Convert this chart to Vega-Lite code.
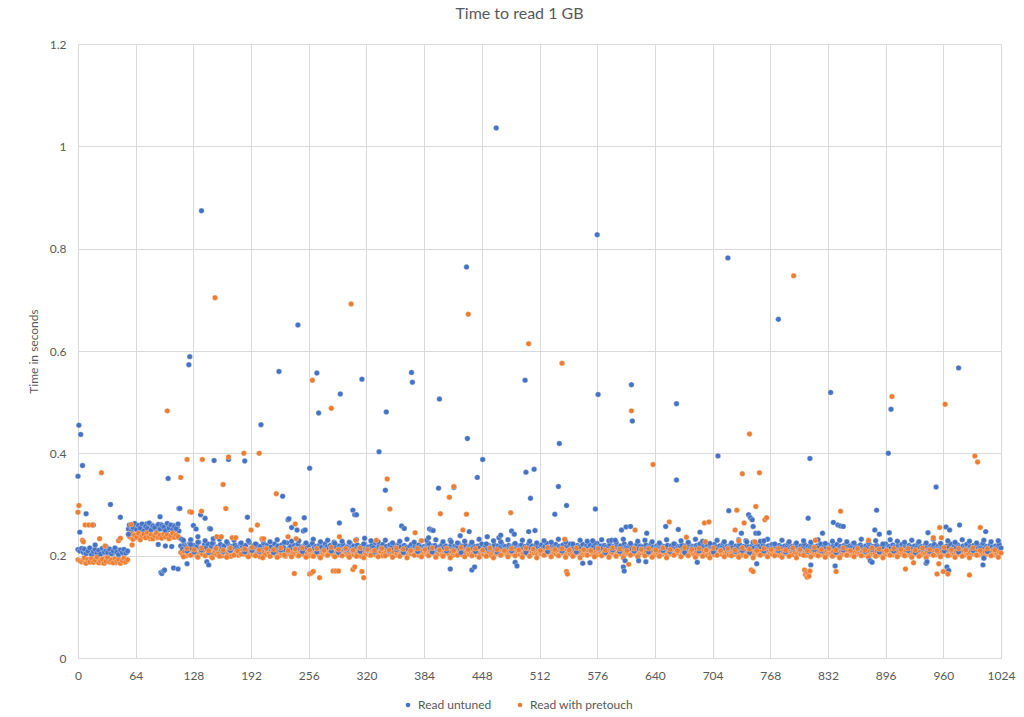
{
  "$schema": "https://vega.github.io/schema/vega-lite/v6.json",
  "description": "Time to read 1 GB, untuned vs pretouch",
  "width": 923,
  "height": 614,
  "autosize": "none",
  "padding": {"left": 78, "top": 44, "right": 23, "bottom": 59},
  "background": "white",
  "title": {"text": "Time to read 1 GB", "fontSize": 16, "font": "Lato", "fontWeight": "normal", "color": "#595959", "offset": 16, "dx": -20},
  "data": {"values": [
    {"x":0,"u":0.212,"p":0.192},{"x":2,"u":0.209,"p":0.190},{"x":4,"u":0.214,"p":0.188},{"x":6,"u":0.206,"p":0.191},
    {"x":8,"u":0.210,"p":0.186},{"x":10,"u":0.205,"p":0.193},{"x":12,"u":0.208,"p":0.189},{"x":14,"u":0.204,"p":0.187},
    {"x":16,"u":0.211,"p":0.192},{"x":18,"u":0.207,"p":0.190},{"x":20,"u":0.203,"p":0.188},{"x":22,"u":0.209,"p":0.194},
    {"x":24,"u":0.206,"p":0.189},{"x":26,"u":0.212,"p":0.186},{"x":28,"u":0.205,"p":0.191},{"x":30,"u":0.208,"p":0.195},
    {"x":32,"u":0.204,"p":0.188},{"x":34,"u":0.210,"p":0.190},{"x":36,"u":0.207,"p":0.187},{"x":38,"u":0.203,"p":0.192},
    {"x":40,"u":0.209,"p":0.189},{"x":42,"u":0.206,"p":0.186},{"x":44,"u":0.211,"p":0.191},{"x":46,"u":0.205,"p":0.193},
    {"x":48,"u":0.208,"p":0.188},{"x":50,"u":0.204,"p":0.190},{"x":52,"u":0.210,"p":0.187},{"x":54,"u":0.206,"p":0.191},
    {"x":56,"u":0.252,"p":0.241},{"x":58,"u":0.258,"p":0.236},{"x":60,"u":0.249,"p":0.239},{"x":62,"u":0.256,"p":0.234},
    {"x":64,"u":0.261,"p":0.240},{"x":66,"u":0.253,"p":0.237},{"x":68,"u":0.257,"p":0.243},{"x":70,"u":0.250,"p":0.235},
    {"x":72,"u":0.259,"p":0.238},{"x":74,"u":0.254,"p":0.241},{"x":76,"u":0.262,"p":0.236},{"x":78,"u":0.251,"p":0.239},
    {"x":80,"u":0.256,"p":0.233},{"x":82,"u":0.260,"p":0.240},{"x":84,"u":0.253,"p":0.237},{"x":86,"u":0.257,"p":0.242},
    {"x":88,"u":0.249,"p":0.235},{"x":90,"u":0.255,"p":0.238},{"x":92,"u":0.261,"p":0.240},{"x":94,"u":0.252,"p":0.236},
    {"x":96,"u":0.258,"p":0.243},{"x":98,"u":0.254,"p":0.237},{"x":100,"u":0.250,"p":0.239},{"x":102,"u":0.257,"p":0.234},
    {"x":104,"u":0.253,"p":0.241},{"x":106,"u":0.259,"p":0.236},{"x":108,"u":0.251,"p":0.240},{"x":110,"u":0.256,"p":0.238},
    {"x":112,"u":0.248,"p":0.235},
    {"x":114,"u":0.219,"p":0.206},{"x":116,"u":0.213,"p":0.203},{"x":118,"u":0.222,"p":0.208},{"x":120,"u":0.217,"p":0.200},
    {"x":122,"u":0.211,"p":0.205},{"x":124,"u":0.224,"p":0.209},{"x":126,"u":0.215,"p":0.202},{"x":128,"u":0.220,"p":0.206},
    {"x":130,"u":0.212,"p":0.211},{"x":132,"u":0.218,"p":0.199},{"x":134,"u":0.226,"p":0.204},{"x":136,"u":0.214,"p":0.207},
    {"x":138,"u":0.209,"p":0.203},{"x":140,"u":0.221,"p":0.210},{"x":142,"u":0.216,"p":0.201},{"x":144,"u":0.223,"p":0.205},
    {"x":146,"u":0.210,"p":0.208},{"x":148,"u":0.218,"p":0.198},{"x":150,"u":0.225,"p":0.204},{"x":152,"u":0.213,"p":0.209},
    {"x":154,"u":0.217,"p":0.202},{"x":156,"u":0.211,"p":0.206},{"x":158,"u":0.222,"p":0.212},{"x":160,"u":0.215,"p":0.200},
    {"x":162,"u":0.219,"p":0.205},{"x":164,"u":0.208,"p":0.207},{"x":166,"u":0.224,"p":0.203},{"x":168,"u":0.214,"p":0.210},
    {"x":170,"u":0.218,"p":0.199},{"x":172,"u":0.212,"p":0.206},{"x":174,"u":0.221,"p":0.204},{"x":176,"u":0.216,"p":0.208},
    {"x":178,"u":0.210,"p":0.201},{"x":180,"u":0.223,"p":0.205},{"x":182,"u":0.217,"p":0.211},{"x":184,"u":0.213,"p":0.203},
    {"x":186,"u":0.220,"p":0.207},{"x":188,"u":0.209,"p":0.200},{"x":190,"u":0.226,"p":0.205},{"x":192,"u":0.215,"p":0.209},
    {"x":194,"u":0.219,"p":0.202},{"x":196,"u":0.212,"p":0.206},{"x":198,"u":0.222,"p":0.204},{"x":200,"u":0.214,"p":0.210},
    {"x":202,"u":0.218,"p":0.198},{"x":204,"u":0.211,"p":0.205},{"x":206,"u":0.224,"p":0.207},{"x":208,"u":0.216,"p":0.202},
    {"x":210,"u":0.220,"p":0.209},{"x":212,"u":0.213,"p":0.204},{"x":214,"u":0.217,"p":0.200},{"x":216,"u":0.209,"p":0.206},
    {"x":218,"u":0.223,"p":0.211},{"x":220,"u":0.215,"p":0.203},{"x":222,"u":0.219,"p":0.207},{"x":224,"u":0.212,"p":0.201},
    {"x":226,"u":0.221,"p":0.205},{"x":228,"u":0.216,"p":0.208},{"x":230,"u":0.210,"p":0.199},{"x":232,"u":0.225,"p":0.204},
    {"x":234,"u":0.214,"p":0.210},{"x":236,"u":0.218,"p":0.202},{"x":238,"u":0.212,"p":0.206},{"x":240,"u":0.220,"p":0.204},
    {"x":242,"u":0.215,"p":0.209},{"x":244,"u":0.223,"p":0.200},{"x":246,"u":0.211,"p":0.205},{"x":248,"u":0.217,"p":0.207},
    {"x":250,"u":0.213,"p":0.203},{"x":252,"u":0.222,"p":0.211},{"x":254,"u":0.216,"p":0.204},{"x":256,"u":0.219,"p":0.200},
    {"x":258,"u":0.210,"p":0.206},{"x":260,"u":0.224,"p":0.208},{"x":262,"u":0.215,"p":0.202},{"x":264,"u":0.218,"p":0.205},
    {"x":266,"u":0.212,"p":0.210},{"x":268,"u":0.221,"p":0.199},{"x":270,"u":0.216,"p":0.206},{"x":272,"u":0.209,"p":0.203},
    {"x":274,"u":0.223,"p":0.207},{"x":276,"u":0.217,"p":0.201},{"x":278,"u":0.213,"p":0.205},{"x":280,"u":0.220,"p":0.209},
    {"x":282,"u":0.214,"p":0.204},{"x":284,"u":0.226,"p":0.200},{"x":286,"u":0.218,"p":0.206},{"x":288,"u":0.211,"p":0.208},
    {"x":290,"u":0.219,"p":0.202},{"x":292,"u":0.215,"p":0.205},{"x":294,"u":0.222,"p":0.211},{"x":296,"u":0.212,"p":0.203},
    {"x":298,"u":0.217,"p":0.207},{"x":300,"u":0.210,"p":0.200},{"x":302,"u":0.224,"p":0.204},{"x":304,"u":0.216,"p":0.209},
    {"x":306,"u":0.219,"p":0.202},{"x":308,"u":0.213,"p":0.206},{"x":310,"u":0.221,"p":0.204},{"x":312,"u":0.215,"p":0.210},
    {"x":314,"u":0.218,"p":0.199},{"x":316,"u":0.211,"p":0.205},{"x":318,"u":0.223,"p":0.207},{"x":320,"u":0.214,"p":0.203},
    {"x":322,"u":0.217,"p":0.208},{"x":324,"u":0.212,"p":0.201},{"x":326,"u":0.220,"p":0.205},{"x":328,"u":0.216,"p":0.209},
    {"x":330,"u":0.225,"p":0.202},{"x":332,"u":0.213,"p":0.206},{"x":334,"u":0.219,"p":0.204},{"x":336,"u":0.215,"p":0.208},
    {"x":338,"u":0.222,"p":0.200},{"x":340,"u":0.210,"p":0.205},{"x":342,"u":0.218,"p":0.207},{"x":344,"u":0.214,"p":0.203},
    {"x":346,"u":0.221,"p":0.209},{"x":348,"u":0.216,"p":0.204},{"x":350,"u":0.212,"p":0.206},{"x":352,"u":0.219,"p":0.201},
    {"x":354,"u":0.215,"p":0.205},{"x":356,"u":0.223,"p":0.208},{"x":358,"u":0.217,"p":0.203},{"x":360,"u":0.211,"p":0.207},
    {"x":362,"u":0.220,"p":0.205},{"x":364,"u":0.216,"p":0.210},{"x":366,"u":0.213,"p":0.202},{"x":368,"u":0.218,"p":0.206},
    {"x":370,"u":0.222,"p":0.204},{"x":372,"u":0.214,"p":0.208},{"x":374,"u":0.219,"p":0.203},{"x":376,"u":0.215,"p":0.206},
    {"x":378,"u":0.221,"p":0.201},{"x":380,"u":0.217,"p":0.205},{"x":382,"u":0.212,"p":0.209},{"x":384,"u":0.218,"p":0.204},
    {"x":386,"u":0.216,"p":0.207},{"x":388,"u":0.223,"p":0.202},{"x":390,"u":0.214,"p":0.206},{"x":392,"u":0.219,"p":0.205},
    {"x":394,"u":0.213,"p":0.210},{"x":396,"u":0.220,"p":0.203},{"x":398,"u":0.216,"p":0.207},{"x":400,"u":0.211,"p":0.204},
    {"x":402,"u":0.218,"p":0.208},{"x":404,"u":0.222,"p":0.202},{"x":406,"u":0.215,"p":0.206},{"x":408,"u":0.219,"p":0.205},
    {"x":410,"u":0.213,"p":0.209},{"x":412,"u":0.217,"p":0.203},{"x":414,"u":0.221,"p":0.207},{"x":416,"u":0.214,"p":0.201},
    {"x":418,"u":0.218,"p":0.205},{"x":420,"u":0.216,"p":0.208},{"x":422,"u":0.224,"p":0.204},{"x":424,"u":0.212,"p":0.206},
    {"x":426,"u":0.219,"p":0.202},{"x":428,"u":0.215,"p":0.207},{"x":430,"u":0.220,"p":0.205},{"x":432,"u":0.213,"p":0.210},
    {"x":434,"u":0.217,"p":0.203},{"x":436,"u":0.222,"p":0.206},{"x":438,"u":0.215,"p":0.204},{"x":440,"u":0.218,"p":0.208},
    {"x":442,"u":0.211,"p":0.202},{"x":444,"u":0.219,"p":0.206},{"x":446,"u":0.216,"p":0.205},{"x":448,"u":0.223,"p":0.209},
    {"x":450,"u":0.214,"p":0.203},{"x":452,"u":0.218,"p":0.207},{"x":454,"u":0.212,"p":0.204},{"x":456,"u":0.220,"p":0.206},
    {"x":458,"u":0.217,"p":0.201},{"x":460,"u":0.215,"p":0.205},{"x":462,"u":0.221,"p":0.208},{"x":464,"u":0.213,"p":0.204},
    {"x":466,"u":0.219,"p":0.207},{"x":468,"u":0.216,"p":0.202},{"x":470,"u":0.224,"p":0.206},{"x":472,"u":0.214,"p":0.205},
    {"x":474,"u":0.218,"p":0.209},{"x":476,"u":0.212,"p":0.203},{"x":478,"u":0.220,"p":0.207},{"x":480,"u":0.217,"p":0.204},
    {"x":482,"u":0.215,"p":0.206},{"x":484,"u":0.222,"p":0.202},{"x":486,"u":0.213,"p":0.208},{"x":488,"u":0.219,"p":0.205},
    {"x":490,"u":0.216,"p":0.203},{"x":492,"u":0.221,"p":0.207},{"x":494,"u":0.214,"p":0.205},{"x":496,"u":0.218,"p":0.209},
    {"x":498,"u":0.212,"p":0.204},{"x":500,"u":0.223,"p":0.206},{"x":502,"u":0.216,"p":0.202},{"x":504,"u":0.219,"p":0.207},
    {"x":506,"u":0.214,"p":0.205},{"x":508,"u":0.220,"p":0.208},{"x":510,"u":0.217,"p":0.203},{"x":512,"u":0.213,"p":0.206},
    {"x":514,"u":0.221,"p":0.204},{"x":516,"u":0.215,"p":0.209},{"x":518,"u":0.218,"p":0.202},{"x":520,"u":0.224,"p":0.206},
    {"x":522,"u":0.216,"p":0.205},{"x":524,"u":0.212,"p":0.207},{"x":526,"u":0.219,"p":0.203},{"x":528,"u":0.217,"p":0.206},
    {"x":530,"u":0.222,"p":0.204},{"x":532,"u":0.214,"p":0.208},{"x":534,"u":0.218,"p":0.202},{"x":536,"u":0.215,"p":0.206},
    {"x":538,"u":0.221,"p":0.205},{"x":540,"u":0.213,"p":0.209},{"x":542,"u":0.219,"p":0.203},{"x":544,"u":0.216,"p":0.207},
    {"x":546,"u":0.223,"p":0.204},{"x":548,"u":0.214,"p":0.206},{"x":550,"u":0.218,"p":0.201},{"x":552,"u":0.212,"p":0.205},
    {"x":554,"u":0.220,"p":0.208},{"x":556,"u":0.217,"p":0.204},{"x":558,"u":0.215,"p":0.207},{"x":560,"u":0.222,"p":0.202},
    {"x":562,"u":0.213,"p":0.206},{"x":564,"u":0.219,"p":0.205},{"x":566,"u":0.216,"p":0.209},{"x":568,"u":0.221,"p":0.203},
    {"x":570,"u":0.214,"p":0.207},{"x":572,"u":0.218,"p":0.204},{"x":574,"u":0.212,"p":0.206},{"x":576,"u":0.224,"p":0.202},
    {"x":578,"u":0.216,"p":0.208},{"x":580,"u":0.219,"p":0.205},{"x":582,"u":0.214,"p":0.203},{"x":584,"u":0.220,"p":0.207},
    {"x":586,"u":0.217,"p":0.204},{"x":588,"u":0.215,"p":0.209},{"x":590,"u":0.222,"p":0.202},{"x":592,"u":0.213,"p":0.206},
    {"x":594,"u":0.218,"p":0.205},{"x":596,"u":0.216,"p":0.207},{"x":598,"u":0.221,"p":0.203},{"x":600,"u":0.214,"p":0.206},
    {"x":602,"u":0.219,"p":0.204},{"x":604,"u":0.212,"p":0.208},{"x":606,"u":0.223,"p":0.202},{"x":608,"u":0.217,"p":0.206},
    {"x":610,"u":0.215,"p":0.205},{"x":612,"u":0.220,"p":0.209},{"x":614,"u":0.213,"p":0.203},{"x":616,"u":0.218,"p":0.207},
    {"x":618,"u":0.216,"p":0.204},{"x":620,"u":0.222,"p":0.206},{"x":622,"u":0.214,"p":0.201},{"x":624,"u":0.219,"p":0.205},
    {"x":626,"u":0.217,"p":0.208},{"x":628,"u":0.212,"p":0.204},{"x":630,"u":0.221,"p":0.207},{"x":632,"u":0.215,"p":0.203},
    {"x":634,"u":0.218,"p":0.206},{"x":636,"u":0.224,"p":0.205},{"x":638,"u":0.216,"p":0.209},{"x":640,"u":0.213,"p":0.202},
    {"x":642,"u":0.219,"p":0.206},{"x":644,"u":0.217,"p":0.204},{"x":646,"u":0.222,"p":0.208},{"x":648,"u":0.214,"p":0.203},
    {"x":650,"u":0.218,"p":0.207},{"x":652,"u":0.215,"p":0.205},{"x":654,"u":0.220,"p":0.202},{"x":656,"u":0.212,"p":0.206},
    {"x":658,"u":0.219,"p":0.204},{"x":660,"u":0.216,"p":0.208},{"x":662,"u":0.223,"p":0.203},{"x":664,"u":0.214,"p":0.206},
    {"x":666,"u":0.218,"p":0.205},{"x":668,"u":0.217,"p":0.209},{"x":670,"u":0.221,"p":0.202},{"x":672,"u":0.213,"p":0.207},
    {"x":674,"u":0.219,"p":0.204},{"x":676,"u":0.216,"p":0.206},{"x":678,"u":0.222,"p":0.203},{"x":680,"u":0.214,"p":0.208},
    {"x":682,"u":0.218,"p":0.205},{"x":684,"u":0.215,"p":0.202},{"x":686,"u":0.220,"p":0.206},{"x":688,"u":0.217,"p":0.204},
    {"x":690,"u":0.223,"p":0.208},{"x":692,"u":0.213,"p":0.203},{"x":694,"u":0.219,"p":0.207},{"x":696,"u":0.216,"p":0.205},
    {"x":698,"u":0.221,"p":0.201},{"x":700,"u":0.214,"p":0.206},{"x":702,"u":0.218,"p":0.204},{"x":704,"u":0.215,"p":0.208},
    {"x":706,"u":0.222,"p":0.202},{"x":708,"u":0.217,"p":0.206},{"x":710,"u":0.213,"p":0.205},{"x":712,"u":0.219,"p":0.209},
    {"x":714,"u":0.216,"p":0.203},{"x":716,"u":0.224,"p":0.207},{"x":718,"u":0.214,"p":0.204},{"x":720,"u":0.218,"p":0.206},
    {"x":722,"u":0.215,"p":0.202},{"x":724,"u":0.221,"p":0.208},{"x":726,"u":0.217,"p":0.205},{"x":728,"u":0.212,"p":0.203},
    {"x":730,"u":0.219,"p":0.207},{"x":732,"u":0.216,"p":0.204},{"x":734,"u":0.222,"p":0.206},{"x":736,"u":0.214,"p":0.201},
    {"x":738,"u":0.218,"p":0.205},{"x":740,"u":0.215,"p":0.209},{"x":742,"u":0.220,"p":0.203},{"x":744,"u":0.217,"p":0.207},
    {"x":746,"u":0.213,"p":0.204},{"x":748,"u":0.219,"p":0.206},{"x":750,"u":0.216,"p":0.202},{"x":752,"u":0.223,"p":0.208},
    {"x":754,"u":0.214,"p":0.205},{"x":756,"u":0.218,"p":0.203},{"x":758,"u":0.215,"p":0.207},{"x":760,"u":0.221,"p":0.204},
    {"x":762,"u":0.217,"p":0.206},{"x":764,"u":0.212,"p":0.202},{"x":766,"u":0.219,"p":0.208},{"x":768,"u":0.216,"p":0.205},
    {"x":770,"u":0.222,"p":0.203},{"x":772,"u":0.214,"p":0.207},{"x":774,"u":0.218,"p":0.204},{"x":776,"u":0.215,"p":0.206},
    {"x":778,"u":0.220,"p":0.201},{"x":780,"u":0.217,"p":0.205},{"x":782,"u":0.213,"p":0.208},{"x":784,"u":0.219,"p":0.204},
    {"x":786,"u":0.216,"p":0.206},{"x":788,"u":0.224,"p":0.203},{"x":790,"u":0.214,"p":0.207},{"x":792,"u":0.218,"p":0.205},
    {"x":794,"u":0.215,"p":0.202},{"x":796,"u":0.221,"p":0.206},{"x":798,"u":0.217,"p":0.204},{"x":800,"u":0.213,"p":0.208},
    {"x":802,"u":0.219,"p":0.203},{"x":804,"u":0.216,"p":0.207},{"x":806,"u":0.222,"p":0.205},{"x":808,"u":0.214,"p":0.201},
    {"x":810,"u":0.218,"p":0.206},{"x":812,"u":0.215,"p":0.204},{"x":814,"u":0.220,"p":0.208},{"x":816,"u":0.217,"p":0.203},
    {"x":818,"u":0.212,"p":0.206},{"x":820,"u":0.219,"p":0.205},{"x":822,"u":0.216,"p":0.209},{"x":824,"u":0.223,"p":0.202},
    {"x":826,"u":0.214,"p":0.206},{"x":828,"u":0.218,"p":0.204},{"x":830,"u":0.215,"p":0.207},{"x":832,"u":0.221,"p":0.203},
    {"x":834,"u":0.217,"p":0.206},{"x":836,"u":0.213,"p":0.205},{"x":838,"u":0.219,"p":0.208},{"x":840,"u":0.216,"p":0.202},
    {"x":842,"u":0.222,"p":0.206},{"x":844,"u":0.214,"p":0.204},{"x":846,"u":0.218,"p":0.207},{"x":848,"u":0.215,"p":0.203},
    {"x":850,"u":0.220,"p":0.206},{"x":852,"u":0.217,"p":0.205},{"x":854,"u":0.212,"p":0.209},{"x":856,"u":0.219,"p":0.202},
    {"x":858,"u":0.216,"p":0.206},{"x":860,"u":0.224,"p":0.204},{"x":862,"u":0.214,"p":0.207},{"x":864,"u":0.218,"p":0.203},
    {"x":866,"u":0.215,"p":0.206},{"x":868,"u":0.221,"p":0.205},{"x":870,"u":0.217,"p":0.208},{"x":872,"u":0.213,"p":0.202},
    {"x":874,"u":0.219,"p":0.206},{"x":876,"u":0.216,"p":0.204},{"x":878,"u":0.222,"p":0.207},{"x":880,"u":0.214,"p":0.203},
    {"x":882,"u":0.218,"p":0.206},{"x":884,"u":0.215,"p":0.205},{"x":886,"u":0.220,"p":0.209},{"x":888,"u":0.217,"p":0.202},
    {"x":890,"u":0.213,"p":0.206},{"x":892,"u":0.219,"p":0.204},{"x":894,"u":0.216,"p":0.207},{"x":896,"u":0.223,"p":0.203},
    {"x":898,"u":0.214,"p":0.206},{"x":900,"u":0.218,"p":0.205},{"x":902,"u":0.215,"p":0.208},{"x":904,"u":0.221,"p":0.202},
    {"x":906,"u":0.217,"p":0.206},{"x":908,"u":0.212,"p":0.204},{"x":910,"u":0.219,"p":0.207},{"x":912,"u":0.216,"p":0.203},
    {"x":914,"u":0.222,"p":0.206},{"x":916,"u":0.214,"p":0.205},{"x":918,"u":0.218,"p":0.209},{"x":920,"u":0.215,"p":0.202},
    {"x":922,"u":0.220,"p":0.206},{"x":924,"u":0.217,"p":0.204},{"x":926,"u":0.213,"p":0.207},{"x":928,"u":0.219,"p":0.203},
    {"x":930,"u":0.216,"p":0.206},{"x":932,"u":0.224,"p":0.205},{"x":934,"u":0.214,"p":0.208},{"x":936,"u":0.218,"p":0.202},
    {"x":938,"u":0.215,"p":0.206},{"x":940,"u":0.221,"p":0.204},{"x":942,"u":0.217,"p":0.207},{"x":944,"u":0.213,"p":0.203},
    {"x":946,"u":0.219,"p":0.206},{"x":948,"u":0.216,"p":0.205},{"x":950,"u":0.222,"p":0.209},{"x":952,"u":0.214,"p":0.202},
    {"x":954,"u":0.218,"p":0.206},{"x":956,"u":0.215,"p":0.204},{"x":958,"u":0.220,"p":0.207},{"x":960,"u":0.217,"p":0.203},
    {"x":962,"u":0.212,"p":0.206},{"x":964,"u":0.219,"p":0.205},{"x":966,"u":0.216,"p":0.208},{"x":968,"u":0.223,"p":0.202},
    {"x":970,"u":0.214,"p":0.206},{"x":972,"u":0.218,"p":0.204},{"x":974,"u":0.215,"p":0.207},{"x":976,"u":0.221,"p":0.203},
    {"x":978,"u":0.217,"p":0.206},{"x":980,"u":0.213,"p":0.205},{"x":982,"u":0.219,"p":0.209},{"x":984,"u":0.216,"p":0.202},
    {"x":986,"u":0.222,"p":0.206},{"x":988,"u":0.214,"p":0.204},{"x":990,"u":0.218,"p":0.207},{"x":992,"u":0.215,"p":0.203},
    {"x":994,"u":0.220,"p":0.206},{"x":996,"u":0.217,"p":0.205},{"x":998,"u":0.213,"p":0.208},{"x":1000,"u":0.219,"p":0.202},
    {"x":1002,"u":0.216,"p":0.206},{"x":1004,"u":0.224,"p":0.204},{"x":1006,"u":0.214,"p":0.207},{"x":1008,"u":0.218,"p":0.203},
    {"x":1010,"u":0.215,"p":0.206},{"x":1012,"u":0.221,"p":0.205},{"x":1014,"u":0.217,"p":0.208},{"x":1016,"u":0.213,"p":0.202},
    {"x":1018,"u":0.219,"p":0.206},{"x":1020,"u":0.216,"p":0.204},{"x":1022,"u":0.222,"p":0.207},{"x":1024,"u":0.215,"p":0.205},

    {"x":7,"u":0.213,"p":0.196},{"x":9,"u":0.204,"p":0.185},{"x":11,"u":0.209,"p":0.192},{"x":13,"u":0.215,"p":0.188},
    {"x":15,"u":0.202,"p":0.194},{"x":17,"u":0.208,"p":0.187},{"x":19,"u":0.212,"p":0.191},{"x":21,"u":0.205,"p":0.197},
    {"x":23,"u":0.210,"p":0.186},{"x":25,"u":0.203,"p":0.190},{"x":27,"u":0.214,"p":0.193},{"x":29,"u":0.207,"p":0.185},
    {"x":31,"u":0.211,"p":0.189},{"x":33,"u":0.206,"p":0.196},{"x":35,"u":0.213,"p":0.188},{"x":37,"u":0.204,"p":0.191},
    {"x":39,"u":0.209,"p":0.186},{"x":41,"u":0.215,"p":0.194},{"x":43,"u":0.207,"p":0.189},{"x":45,"u":0.202,"p":0.192},
    {"x":47,"u":0.211,"p":0.185},{"x":49,"u":0.206,"p":0.190},{"x":51,"u":0.212,"p":0.195},{"x":53,"u":0.205,"p":0.188},
    {"x":55,"u":0.209,"p":0.192},
    {"x":57,"u":0.260,"p":0.238},{"x":59,"u":0.247,"p":0.243},{"x":61,"u":0.255,"p":0.232},{"x":63,"u":0.263,"p":0.240},
    {"x":65,"u":0.251,"p":0.236},{"x":67,"u":0.259,"p":0.244},{"x":69,"u":0.254,"p":0.231},{"x":71,"u":0.262,"p":0.239},
    {"x":73,"u":0.248,"p":0.242},{"x":75,"u":0.257,"p":0.235},{"x":77,"u":0.253,"p":0.245},{"x":79,"u":0.264,"p":0.237},
    {"x":81,"u":0.250,"p":0.241},{"x":83,"u":0.258,"p":0.233},{"x":85,"u":0.255,"p":0.239},{"x":87,"u":0.246,"p":0.244},
    {"x":89,"u":0.261,"p":0.236},{"x":91,"u":0.252,"p":0.240},{"x":93,"u":0.259,"p":0.234},{"x":95,"u":0.256,"p":0.242},
    {"x":97,"u":0.249,"p":0.237},{"x":99,"u":0.263,"p":0.241},{"x":101,"u":0.254,"p":0.233},{"x":103,"u":0.260,"p":0.239},
    {"x":105,"u":0.251,"p":0.244},{"x":107,"u":0.257,"p":0.236},{"x":109,"u":0.253,"p":0.240},{"x":111,"u":0.262,"p":0.237},

    {"x":117,"u":0.228,"p":0.198},{"x":121,"u":0.209,"p":0.214},{"x":125,"u":0.231,"p":0.201},{"x":129,"u":0.207,"p":0.212},
    {"x":133,"u":0.226,"p":0.197},{"x":137,"u":0.211,"p":0.215},{"x":141,"u":0.229,"p":0.200},{"x":145,"u":0.206,"p":0.210},
    {"x":149,"u":0.224,"p":0.196},{"x":153,"u":0.213,"p":0.214},{"x":157,"u":0.232,"p":0.199},{"x":161,"u":0.208,"p":0.211},
    {"x":165,"u":0.227,"p":0.197},{"x":169,"u":0.210,"p":0.215},{"x":173,"u":0.230,"p":0.201},{"x":177,"u":0.212,"p":0.209},
    {"x":181,"u":0.225,"p":0.203},{"x":185,"u":0.207,"p":0.213},{"x":189,"u":0.229,"p":0.198},{"x":193,"u":0.210,"p":0.216},
    {"x":197,"u":0.223,"p":0.200},{"x":201,"u":0.208,"p":0.211},{"x":205,"u":0.230,"p":0.196},{"x":209,"u":0.214,"p":0.214},
    {"x":213,"u":0.227,"p":0.199},{"x":217,"u":0.206,"p":0.212},{"x":221,"u":0.231,"p":0.197},{"x":225,"u":0.211,"p":0.215},
    {"x":229,"u":0.226,"p":0.201},{"x":233,"u":0.209,"p":0.210},{"x":237,"u":0.228,"p":0.198},{"x":241,"u":0.213,"p":0.213},
    {"x":245,"u":0.229,"p":0.200},{"x":249,"u":0.208,"p":0.215},{"x":253,"u":0.225,"p":0.197},{"x":257,"u":0.211,"p":0.211},
    {"x":261,"u":0.232,"p":0.199},{"x":265,"u":0.207,"p":0.214},{"x":269,"u":0.227,"p":0.196},{"x":273,"u":0.212,"p":0.210},
    {"x":277,"u":0.230,"p":0.201},{"x":281,"u":0.209,"p":0.216},{"x":285,"u":0.224,"p":0.198},{"x":289,"u":0.206,"p":0.212},
    {"x":293,"u":0.228,"p":0.200},{"x":297,"u":0.213,"p":0.214},{"x":301,"u":0.226,"p":0.197},{"x":305,"u":0.210,"p":0.211},
    {"x":309,"u":0.231,"p":0.199},{"x":313,"u":0.208,"p":0.215},{"x":317,"u":0.223,"p":0.196},{"x":321,"u":0.211,"p":0.212},
    {"x":325,"u":0.229,"p":0.201},{"x":329,"u":0.207,"p":0.210},{"x":333,"u":0.227,"p":0.198},{"x":337,"u":0.214,"p":0.214},
    {"x":341,"u":0.230,"p":0.200},{"x":345,"u":0.209,"p":0.211},{"x":349,"u":0.225,"p":0.197},{"x":353,"u":0.212,"p":0.215},
    {"x":357,"u":0.228,"p":0.199},{"x":361,"u":0.206,"p":0.213},{"x":365,"u":0.232,"p":0.196},{"x":369,"u":0.210,"p":0.210},
    {"x":373,"u":0.226,"p":0.201},{"x":377,"u":0.208,"p":0.214},{"x":381,"u":0.229,"p":0.198},{"x":385,"u":0.213,"p":0.212},
    {"x":389,"u":0.224,"p":0.200},{"x":393,"u":0.207,"p":0.215},{"x":397,"u":0.231,"p":0.197},{"x":401,"u":0.211,"p":0.211},
    {"x":405,"u":0.227,"p":0.199},{"x":409,"u":0.209,"p":0.214},{"x":413,"u":0.230,"p":0.196},{"x":417,"u":0.212,"p":0.210},
    {"x":421,"u":0.225,"p":0.201},{"x":425,"u":0.206,"p":0.216},{"x":429,"u":0.228,"p":0.198},{"x":433,"u":0.214,"p":0.212},
    {"x":437,"u":0.226,"p":0.200},{"x":441,"u":0.208,"p":0.214},{"x":445,"u":0.232,"p":0.197},{"x":449,"u":0.210,"p":0.211},
    {"x":453,"u":0.223,"p":0.199},{"x":457,"u":0.213,"p":0.215},{"x":461,"u":0.229,"p":0.196},{"x":465,"u":0.207,"p":0.212},
    {"x":469,"u":0.227,"p":0.201},{"x":473,"u":0.211,"p":0.210},{"x":477,"u":0.231,"p":0.198},{"x":481,"u":0.209,"p":0.214},
    {"x":485,"u":0.224,"p":0.200},{"x":489,"u":0.212,"p":0.211},{"x":493,"u":0.230,"p":0.197},{"x":497,"u":0.206,"p":0.215},
    {"x":501,"u":0.228,"p":0.199},{"x":505,"u":0.213,"p":0.213},{"x":509,"u":0.225,"p":0.196},{"x":513,"u":0.210,"p":0.210},
    {"x":517,"u":0.229,"p":0.201},{"x":521,"u":0.208,"p":0.216},{"x":525,"u":0.226,"p":0.198},{"x":529,"u":0.214,"p":0.212},
    {"x":533,"u":0.232,"p":0.200},{"x":537,"u":0.209,"p":0.214},{"x":541,"u":0.227,"p":0.197},{"x":545,"u":0.211,"p":0.211},
    {"x":549,"u":0.223,"p":0.199},{"x":553,"u":0.207,"p":0.215},{"x":557,"u":0.230,"p":0.196},{"x":561,"u":0.212,"p":0.212},
    {"x":565,"u":0.228,"p":0.201},{"x":569,"u":0.210,"p":0.210},{"x":573,"u":0.225,"p":0.198},{"x":577,"u":0.213,"p":0.214},
    {"x":581,"u":0.231,"p":0.200},{"x":585,"u":0.206,"p":0.211},{"x":589,"u":0.229,"p":0.197},{"x":593,"u":0.211,"p":0.215},
    {"x":597,"u":0.226,"p":0.199},{"x":601,"u":0.208,"p":0.213},{"x":605,"u":0.232,"p":0.196},{"x":609,"u":0.214,"p":0.210},
    {"x":613,"u":0.224,"p":0.201},{"x":617,"u":0.209,"p":0.214},{"x":621,"u":0.228,"p":0.198},{"x":625,"u":0.212,"p":0.212},
    {"x":629,"u":0.230,"p":0.200},{"x":633,"u":0.207,"p":0.214},{"x":637,"u":0.227,"p":0.197},{"x":641,"u":0.213,"p":0.211},
    {"x":645,"u":0.225,"p":0.199},{"x":649,"u":0.210,"p":0.215},{"x":653,"u":0.231,"p":0.196},{"x":657,"u":0.208,"p":0.212},
    {"x":661,"u":0.223,"p":0.201},{"x":665,"u":0.211,"p":0.210},{"x":669,"u":0.229,"p":0.198},{"x":673,"u":0.206,"p":0.216},
    {"x":677,"u":0.226,"p":0.200},{"x":681,"u":0.214,"p":0.212},{"x":685,"u":0.232,"p":0.197},{"x":689,"u":0.209,"p":0.214},
    {"x":693,"u":0.228,"p":0.199},{"x":697,"u":0.212,"p":0.211},{"x":701,"u":0.224,"p":0.196},{"x":705,"u":0.207,"p":0.215},
    {"x":709,"u":0.230,"p":0.201},{"x":713,"u":0.211,"p":0.210},{"x":717,"u":0.227,"p":0.198},{"x":721,"u":0.213,"p":0.214},
    {"x":725,"u":0.225,"p":0.200},{"x":729,"u":0.208,"p":0.211},{"x":733,"u":0.231,"p":0.197},{"x":737,"u":0.210,"p":0.215},
    {"x":741,"u":0.229,"p":0.199},{"x":745,"u":0.206,"p":0.213},{"x":749,"u":0.226,"p":0.196},{"x":753,"u":0.212,"p":0.210},
    {"x":757,"u":0.228,"p":0.201},{"x":761,"u":0.209,"p":0.214},{"x":765,"u":0.232,"p":0.198},{"x":769,"u":0.214,"p":0.212},
    {"x":773,"u":0.223,"p":0.200},{"x":777,"u":0.210,"p":0.214},{"x":781,"u":0.230,"p":0.197},{"x":785,"u":0.207,"p":0.211},
    {"x":789,"u":0.227,"p":0.199},{"x":793,"u":0.213,"p":0.215},{"x":797,"u":0.225,"p":0.196},{"x":801,"u":0.211,"p":0.212},
    {"x":805,"u":0.229,"p":0.201},{"x":809,"u":0.208,"p":0.210},{"x":813,"u":0.226,"p":0.198},{"x":817,"u":0.212,"p":0.216},
    {"x":821,"u":0.231,"p":0.200},{"x":825,"u":0.209,"p":0.212},{"x":829,"u":0.224,"p":0.197},{"x":833,"u":0.214,"p":0.214},
    {"x":837,"u":0.228,"p":0.199},{"x":841,"u":0.206,"p":0.211},{"x":845,"u":0.230,"p":0.196},{"x":849,"u":0.211,"p":0.215},
    {"x":853,"u":0.227,"p":0.201},{"x":857,"u":0.210,"p":0.210},{"x":861,"u":0.225,"p":0.198},{"x":865,"u":0.213,"p":0.214},
    {"x":869,"u":0.232,"p":0.200},{"x":873,"u":0.208,"p":0.211},{"x":877,"u":0.226,"p":0.197},{"x":881,"u":0.212,"p":0.215},
    {"x":885,"u":0.229,"p":0.199},{"x":889,"u":0.207,"p":0.213},{"x":893,"u":0.223,"p":0.196},{"x":897,"u":0.211,"p":0.210},
    {"x":901,"u":0.231,"p":0.201},{"x":905,"u":0.209,"p":0.214},{"x":909,"u":0.228,"p":0.198},{"x":913,"u":0.214,"p":0.212},
    {"x":917,"u":0.226,"p":0.200},{"x":921,"u":0.210,"p":0.214},{"x":925,"u":0.230,"p":0.197},{"x":929,"u":0.206,"p":0.211},
    {"x":933,"u":0.227,"p":0.199},{"x":937,"u":0.213,"p":0.215},{"x":941,"u":0.225,"p":0.196},{"x":945,"u":0.208,"p":0.212},
    {"x":949,"u":0.232,"p":0.201},{"x":953,"u":0.212,"p":0.210},{"x":957,"u":0.224,"p":0.198},{"x":961,"u":0.209,"p":0.216},
    {"x":965,"u":0.229,"p":0.200},{"x":969,"u":0.211,"p":0.212},{"x":973,"u":0.226,"p":0.197},{"x":977,"u":0.207,"p":0.214},
    {"x":981,"u":0.231,"p":0.199},{"x":985,"u":0.213,"p":0.211},{"x":989,"u":0.228,"p":0.196},{"x":993,"u":0.210,"p":0.215},
    {"x":997,"u":0.225,"p":0.201},{"x":1001,"u":0.214,"p":0.210},{"x":1005,"u":0.230,"p":0.198},{"x":1009,"u":0.208,"p":0.214},
    {"x":1013,"u":0.227,"p":0.200},{"x":1017,"u":0.212,"p":0.211},{"x":1021,"u":0.229,"p":0.197},

    {"x":0,"u":0.355},{"x":1,"u":0.455},{"x":3,"u":0.437},{"x":2,"u":0.246},{"x":5,"u":0.376},{"x":9,"u":0.282},
    {"x":17,"u":0.26},{"x":19,"u":0.221},{"x":31,"u":0.218},{"x":36,"u":0.30},{"x":47,"u":0.275},{"x":56,"u":0.242},
    {"x":89,"u":0.222},{"x":91,"u":0.276},{"x":92,"u":0.167},{"x":93,"u":0.165},{"x":95,"u":0.17},{"x":96,"u":0.172},
    {"x":97,"u":0.219},{"x":100,"u":0.351},{"x":104,"u":0.218},{"x":106,"u":0.176},{"x":111,"u":0.174},{"x":112,"u":0.292},
    {"x":113,"u":0.292},{"x":115,"u":0.232},{"x":117,"u":0.23},{"x":121,"u":0.184},{"x":123,"u":0.573},{"x":124,"u":0.589},
    {"x":125,"u":0.222},{"x":128,"u":0.259},{"x":131,"u":0.252},{"x":133,"u":0.237},{"x":136,"u":0.28},{"x":137,"u":0.874},
    {"x":141,"u":0.273},{"x":143,"u":0.188},{"x":145,"u":0.182},{"x":146,"u":0.253},{"x":147,"u":0.252},{"x":150,"u":0.233},
    {"x":151,"u":0.386},{"x":167,"u":0.388},{"x":185,"u":0.385},{"x":188,"u":0.275},{"x":203,"u":0.456},{"x":223,"u":0.56},
    {"x":227,"u":0.316},{"x":233,"u":0.27},{"x":234,"u":0.272},{"x":237,"u":0.255},{"x":243,"u":0.25},{"x":244,"u":0.651},
    {"x":250,"u":0.248},{"x":251,"u":0.274},{"x":252,"u":0.25},{"x":257,"u":0.371},{"x":265,"u":0.557},{"x":267,"u":0.479},
    {"x":290,"u":0.264},{"x":291,"u":0.516},{"x":305,"u":0.289},{"x":307,"u":0.28},{"x":309,"u":0.28},{"x":315,"u":0.545},
    {"x":318,"u":0.234},{"x":334,"u":0.403},{"x":341,"u":0.328},{"x":342,"u":0.481},{"x":359,"u":0.258},{"x":362,"u":0.253},
    {"x":370,"u":0.558},{"x":371,"u":0.539},{"x":387,"u":0.23},{"x":389,"u":0.235},{"x":390,"u":0.252},{"x":392,"u":0.25},
    {"x":394,"u":0.249},{"x":400,"u":0.332},{"x":401,"u":0.506},{"x":413,"u":0.174},{"x":414,"u":0.227},{"x":417,"u":0.333},
    {"x":424,"u":0.239},{"x":431,"u":0.764},{"x":432,"u":0.429},{"x":434,"u":0.247},{"x":437,"u":0.172},{"x":440,"u":0.178},
    {"x":443,"u":0.353},{"x":449,"u":0.388},{"x":454,"u":0.237},{"x":464,"u":1.036},{"x":467,"u":0.235},{"x":469,"u":0.24},
    {"x":481,"u":0.248},{"x":484,"u":0.242},{"x":485,"u":0.187},{"x":487,"u":0.18},{"x":496,"u":0.543},{"x":497,"u":0.363},
    {"x":500,"u":0.247},{"x":502,"u":0.312},{"x":506,"u":0.369},{"x":507,"u":0.249},{"x":529,"u":0.281},{"x":533,"u":0.335},
    {"x":534,"u":0.419},{"x":542,"u":0.298},{"x":560,"u":0.185},{"x":568,"u":0.186},{"x":571,"u":0.229},{"x":574,"u":0.291},
    {"x":576,"u":0.827},{"x":577,"u":0.515},{"x":592,"u":0.23},{"x":596,"u":0.23},{"x":603,"u":0.25},{"x":605,"u":0.178},
    {"x":606,"u":0.17},{"x":607,"u":0.19},{"x":608,"u":0.256},{"x":613,"u":0.257},{"x":614,"u":0.534},{"x":615,"u":0.463},
    {"x":622,"u":0.19},{"x":630,"u":0.188},{"x":631,"u":0.244},{"x":652,"u":0.257},{"x":664,"u":0.497},{"x":664,"u":0.348},
    {"x":666,"u":0.251},{"x":687,"u":0.187},{"x":690,"u":0.246},{"x":710,"u":0.395},{"x":721,"u":0.782},{"x":722,"u":0.288},
    {"x":736,"u":0.244},{"x":742,"u":0.227},{"x":744,"u":0.28},{"x":746,"u":0.274},{"x":748,"u":0.27},{"x":749,"u":0.257},
    {"x":752,"u":0.244},{"x":753,"u":0.184},{"x":755,"u":0.244},{"x":761,"u":0.229},{"x":777,"u":0.662},{"x":810,"u":0.273},
    {"x":812,"u":0.39},{"x":813,"u":0.182},{"x":826,"u":0.244},{"x":835,"u":0.519},{"x":838,"u":0.265},{"x":840,"u":0.18},
    {"x":843,"u":0.26},{"x":846,"u":0.258},{"x":849,"u":0.257},{"x":879,"u":0.19},{"x":881,"u":0.187},{"x":884,"u":0.25},
    {"x":886,"u":0.289},{"x":889,"u":0.242},{"x":899,"u":0.40},{"x":900,"u":0.245},{"x":902,"u":0.486},{"x":941,"u":0.185},
    {"x":942,"u":0.188},{"x":943,"u":0.245},{"x":952,"u":0.334},{"x":963,"u":0.256},{"x":964,"u":0.178},{"x":966,"u":0.171},
    {"x":967,"u":0.25},{"x":977,"u":0.567},{"x":978,"u":0.26},{"x":1004,"u":0.182},{"x":1005,"u":0.195},{"x":1007,"u":0.247},

    {"x":0,"p":0.285},{"x":1,"p":0.298},{"x":5,"p":0.23},{"x":6,"p":0.227},{"x":8,"p":0.26},{"x":12,"p":0.26},
    {"x":16,"p":0.26},{"x":24,"p":0.233},{"x":26,"p":0.362},{"x":30,"p":0.219},{"x":45,"p":0.229},{"x":47,"p":0.234},
    {"x":59,"p":0.261},{"x":60,"p":0.221},{"x":99,"p":0.483},{"x":114,"p":0.353},{"x":121,"p":0.388},{"x":124,"p":0.286},
    {"x":126,"p":0.285},{"x":137,"p":0.287},{"x":138,"p":0.388},{"x":152,"p":0.704},{"x":154,"p":0.237},{"x":159,"p":0.237},
    {"x":161,"p":0.339},{"x":164,"p":0.292},{"x":167,"p":0.393},{"x":171,"p":0.235},{"x":175,"p":0.235},{"x":184,"p":0.40},
    {"x":192,"p":0.25},{"x":199,"p":0.26},{"x":201,"p":0.40},{"x":204,"p":0.233},{"x":206,"p":0.233},{"x":220,"p":0.321},
    {"x":233,"p":0.237},{"x":240,"p":0.165},{"x":241,"p":0.262},{"x":242,"p":0.233},{"x":257,"p":0.164},{"x":259,"p":0.166},
    {"x":260,"p":0.543},{"x":261,"p":0.169},{"x":268,"p":0.157},{"x":281,"p":0.488},{"x":283,"p":0.17},{"x":286,"p":0.17},
    {"x":289,"p":0.17},{"x":290,"p":0.237},{"x":303,"p":0.692},{"x":305,"p":0.173},{"x":307,"p":0.178},{"x":308,"p":0.23},
    {"x":315,"p":0.169},{"x":317,"p":0.157},{"x":331,"p":0.23},{"x":343,"p":0.35},{"x":346,"p":0.291},{"x":374,"p":0.245},
    {"x":381,"p":0.229},{"x":402,"p":0.282},{"x":412,"p":0.314},{"x":417,"p":0.335},{"x":427,"p":0.25},{"x":431,"p":0.281},
    {"x":433,"p":0.672},{"x":480,"p":0.284},{"x":500,"p":0.614},{"x":537,"p":0.576},{"x":540,"p":0.232},{"x":542,"p":0.169},
    {"x":543,"p":0.164},{"x":611,"p":0.183},{"x":614,"p":0.483},{"x":618,"p":0.25},{"x":638,"p":0.378},{"x":656,"p":0.266},
    {"x":675,"p":0.236},{"x":695,"p":0.264},{"x":696,"p":0.227},{"x":700,"p":0.266},{"x":729,"p":0.25},{"x":731,"p":0.289},
    {"x":733,"p":0.229},{"x":737,"p":0.36},{"x":739,"p":0.264},{"x":745,"p":0.438},{"x":747,"p":0.172},{"x":749,"p":0.169},
    {"x":751,"p":0.227},{"x":752,"p":0.296},{"x":756,"p":0.362},{"x":762,"p":0.27},{"x":764,"p":0.274},{"x":794,"p":0.747},
    {"x":806,"p":0.172},{"x":807,"p":0.163},{"x":808,"p":0.168},{"x":809,"p":0.158},{"x":810,"p":0.165},{"x":811,"p":0.16},
    {"x":812,"p":0.17},{"x":818,"p":0.23},{"x":841,"p":0.169},{"x":846,"p":0.287},{"x":877,"p":0.23},{"x":903,"p":0.511},
    {"x":918,"p":0.174},{"x":927,"p":0.186},{"x":949,"p":0.235},{"x":953,"p":0.164},{"x":955,"p":0.184},{"x":956,"p":0.255},
    {"x":958,"p":0.235},{"x":960,"p":0.169},{"x":962,"p":0.496},{"x":965,"p":0.164},{"x":989,"p":0.162},{"x":995,"p":0.395},
    {"x":998,"p":0.383},{"x":1001,"p":0.255}
  ]},
  "transform": [
    {"fold": ["u", "p"], "as": ["series", "t"]},
    {"filter": "isValid(datum.t)"}
  ],
  "mark": {"type": "point", "filled": true, "size": 30, "opacity": 1, "stroke": "white", "strokeWidth": 0.3},
  "encoding": {
    "x": {
      "field": "x", "type": "quantitative",
      "scale": {"domain": [0, 1024], "nice": false, "zero": false},
      "axis": {"values": [0, 64, 128, 192, 256, 320, 384, 448, 512, 576, 640, 704, 768, 832, 896, 960, 1024], "format": "d", "title": null, "labelFlush": false, "domain": true, "domainColor": "#d9d9d9", "labelPadding": 12}
    },
    "y": {
      "field": "t", "type": "quantitative",
      "scale": {"domain": [0, 1.2], "nice": false},
      "axis": {"values": [0, 0.2, 0.4, 0.6, 0.8, 1, 1.2], "format": "~g", "title": "Time in seconds", "domain": false, "labelPadding": 12, "titlePadding": 9}
    },
    "color": {
      "field": "series", "type": "nominal",
      "scale": {"domain": ["u", "p"], "range": ["#4472C4", "#ED7D31"]},
      "legend": {
        "title": null, "orient": "none", "direction": "horizontal", "legendX": 324, "legendY": 655,
        "labelExpr": "datum.value == 'u' ? 'Read untuned' : 'Read with pretouch'",
        "symbolType": "circle", "symbolSize": 22, "symbolStrokeWidth": 0, "columnPadding": 22, "labelOffset": 4
      }
    }
  },
  "config": {
    "view": {"stroke": null},
    "font": "Lato",
    "axis": {
      "labelFont": "Lato", "labelFontSize": 12, "labelColor": "#595959",
      "titleFont": "Lato", "titleFontSize": 12, "titleFontWeight": "normal", "titleColor": "#595959",
      "grid": true, "gridColor": "#d9d9d9", "gridWidth": 1, "ticks": false
    },
    "legend": {"labelFont": "Lato", "labelFontSize": 12, "labelColor": "#595959"}
  }
}
